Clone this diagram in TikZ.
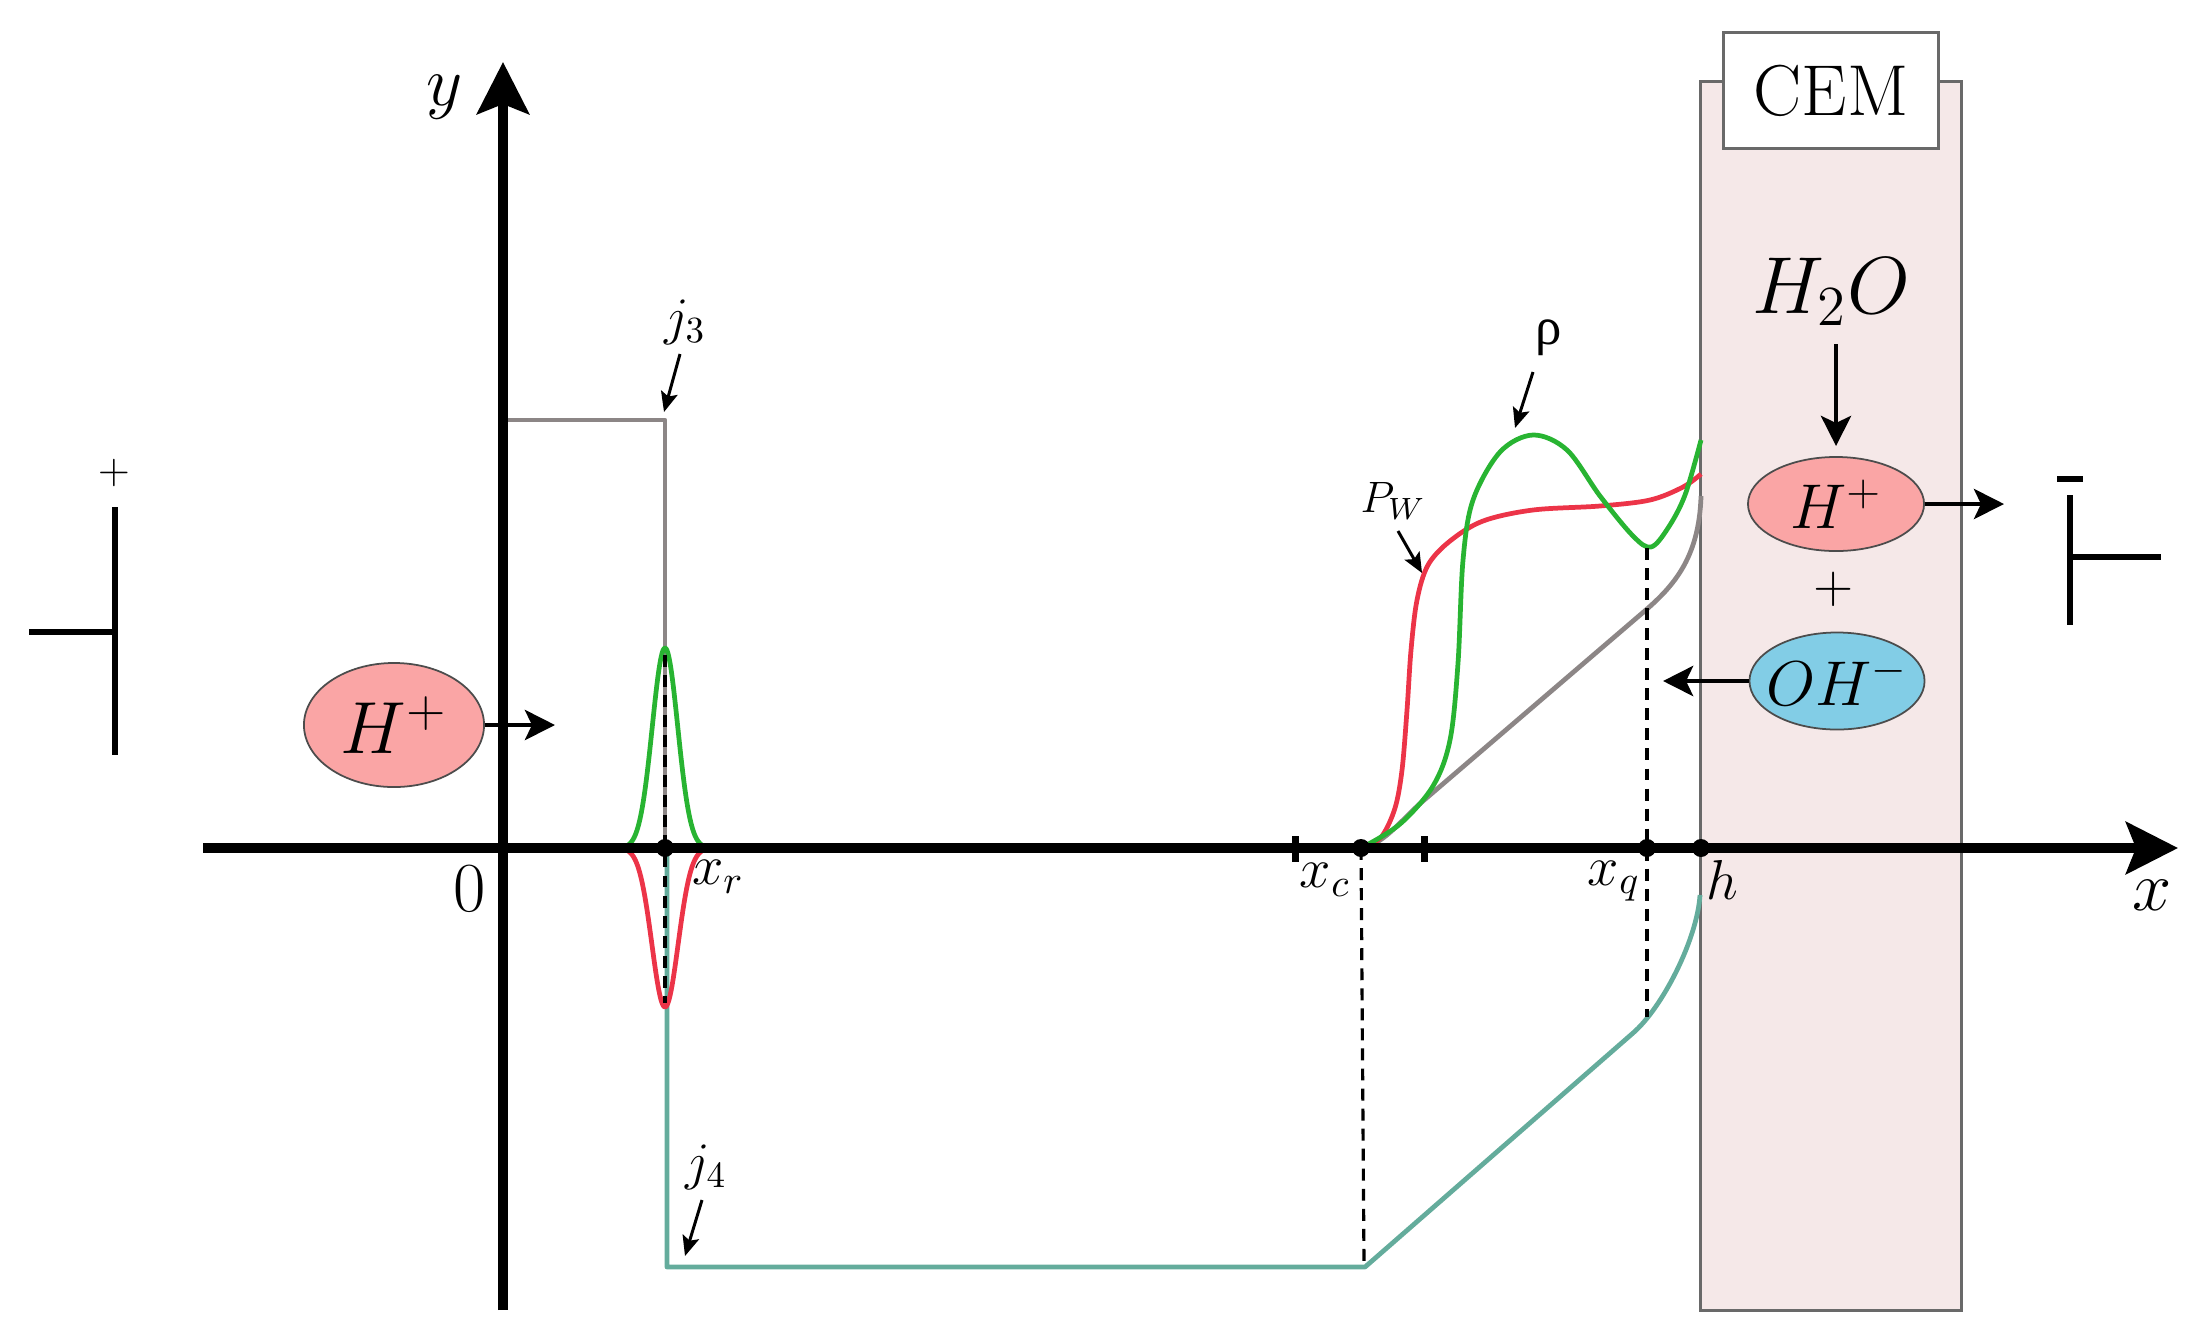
\RequirePackage{fix-cm}
\documentclass[tikz,border=0pt]{standalone}
\usepackage{fontspec}
\newfontfamily\rhofont{Liberation Serif}
\usetikzlibrary{arrows.meta,shapes.geometric}
\definecolor{memfill}{RGB}{245,232,232}
\definecolor{memdraw}{RGB}{105,105,105}
\definecolor{cgray}{RGB}{140,134,134}
\definecolor{cgreen}{RGB}{40,180,50}
\definecolor{cred}{RGB}{236,52,72}
\definecolor{cteal}{RGB}{100,172,156}
\definecolor{hplus}{RGB}{250,165,165}
\definecolor{ohminus}{RGB}{130,205,230}
\newcommand\mysize[1]{\fontsize{#1pt}{#1pt}\selectfont}
\tikzset{
  axisarrow/.style={line width=2.6pt,-{Stealth[length=0.52cm,width=0.52cm,inset=0.1cm]}},
  curvestyle/.style={line width=1.35pt,line join=round},
  dashv/.style={line width=0.9pt,dash pattern=on 3.4pt off 2.3pt},
  dotmark/.style={circle,fill=black,inner sep=0pt,minimum size=0.18cm},
  ionarrow/.style={line width=1.4pt,-{Stealth[length=0.3cm,width=0.3cm,inset=0.07cm]}},
  lblarrow/.style={line width=0.85pt,-{Stealth[length=0.2cm,width=0.17cm,inset=0.04cm]}},
  battline/.style={line width=1.7pt},
  tickmark/.style={line width=2pt},
  ionh/.style={ellipse,draw=black!70,line width=0.5pt,fill=hplus,inner sep=0pt},
  ionoh/.style={ellipse,draw=black!70,line width=0.5pt,fill=ohminus,inner sep=0pt},
  lbl/.style={inner sep=0pt,anchor=center}
}
\begin{document}
\begin{tikzpicture}[x=0.01cm,y=-0.01cm]
\useasboundingbox (0,0) rectangle (2204,1342);

% membrane
\node[draw=memdraw,line width=0.85pt,fill=memfill,minimum width=2.6cm,minimum height=12.28cm,inner sep=0pt] (mem) at (1831,696) {};
\node[draw=memdraw,line width=0.85pt,fill=white,minimum width=2.14cm,minimum height=1.15cm,inner sep=0pt] (cembox) at (1831,90.5) {\mysize{20.5}CEM};

% j3 profile (gray)
\draw[curvestyle,cgray] (506,420) -- (665,420) -- (665,848);
% j4 profile (teal)
\draw[curvestyle,cteal] (667,848) -- (667,1267) -- (1365,1267) -- (1633,1033)
  .. controls (1662,1008) and (1697,940) .. (1700,895);

% gaussians at x_r
\draw[curvestyle,cgreen] plot[domain=612:718,samples=107]
  (\x,{848-200*exp(-((\x-665)/18)*((\x-665)/18))});
\draw[curvestyle,cred] plot[domain=612:718,samples=107]
  (\x,{848+159*exp(-((\x-665)/18.5)*((\x-665)/18.5))});

% right curves
\draw[curvestyle,cgray] (1363,848) .. controls (1385,843) and (1403,818) .. (1423,801)
  -- (1640,615) .. controls (1672,588) and (1699,560) .. (1701,496);
\draw[curvestyle,cred] plot[smooth,tension=0.55] coordinates {(1366,847) (1382,836) (1395,808) (1402,770) (1407,710) (1411,650) (1417,600) (1428,565) (1450,541) (1483,521) (1533,510) (1600,506) (1650,500) (1683,487) (1701,474)};
\draw[curvestyle,cgreen] plot[smooth,tension=0.55] coordinates {(1363,847) (1400,824) (1433,786) (1450,740) (1458,663) (1463,560) (1473,500) (1500,452) (1533,435) (1567,450) (1600,496) (1633,536) (1651,547) (1668,528) (1685,495) (1701,440)};

% dashed verticals
\draw[dashv] (665,655) -- (665,1003);
\draw[dashv] (1361,848) -- (1364,1265);
\draw[dashv] (1647,548) -- (1647,1017);

% axes
\coordinate (xa0) at (203,848);
\coordinate (xa1) at (2178,848);
\coordinate (ya0) at (503,1310);
\coordinate (ya1) at (503,62);
\draw[axisarrow] (xa0) -- (xa1);
\draw[axisarrow] (ya0) -- (ya1);

% ticks and dots
\draw[tickmark] (1295,836) -- (1295,862);
\draw[tickmark] (1424,836) -- (1424,862);
\node[dotmark] (dxr) at (665,848) {};
\node[dotmark] (dxc) at (1361,848) {};
\node[dotmark] (dxq) at (1647,848) {};
\node[dotmark] (dh) at (1701,848) {};

% axis labels
\node[lbl] (ly) at (445,97) {\mysize{20}$y$};
\node[lbl] (lx) at (2152,895) {\mysize{20}$x$};
\node[lbl] (l0) at (470,889) {\mysize{20}$0$};
\node[lbl] (lxr) at (718,877) {\mysize{16}$x_r$};
\node[lbl] (lxc) at (1325,880) {\mysize{16}$x_c$};
\node[lbl] (lxq) at (1614,881) {\mysize{16}$x_q$};
\node[lbl] (lh) at (1722,880) {\mysize{16}$h$};

% curve labels
\node[lbl] (lj3) at (685,322) {\mysize{15}$j_3$};
\coordinate (j3a) at (680,354);
\coordinate (j3b) at (664,412);
\draw[lblarrow] (j3a) -- (j3b);
\node[lbl] (lj4) at (706,1167) {\mysize{15}$j_4$};
\coordinate (j4a) at (702,1200);
\coordinate (j4b) at (685,1256);
\draw[lblarrow] (j4a) -- (j4b);
\node[lbl] (lpw) at (1393,501) {\mysize{12.5}$P_W$};
\coordinate (pwa) at (1398,531);
\coordinate (pwb) at (1422,573);
\draw[lblarrow] (pwa) -- (pwb);
\node[lbl] (lrho) at (1549,338) {\mysize{15}\rhofont ρ};
\coordinate (rhoa) at (1533,372);
\coordinate (rhob) at (1515,428);
\draw[lblarrow] (rhoa) -- (rhob);

% membrane species
\node[lbl] (h2o) at (1831,292) {\mysize{23}$H_2O$};
\node[ionh,minimum width=1.76cm,minimum height=0.94cm] (hpr) at (1836,504) {};
\node[lbl] (hprt) at (hpr.center) {\mysize{18}$H^+$};
\node[lbl] (plus) at (1834,589) {\mysize{15}$+$};
\node[ionoh,minimum width=1.75cm,minimum height=0.97cm] (ohm) at (1837,681) {};
\node[lbl] (ohmt) at (ohm.center) {\mysize{18}$OH^-$};
\coordinate (h2oa) at (1836,344);
\coordinate (h2ob) at (1836,446);
\draw[ionarrow] (h2oa) -- (h2ob);
\coordinate (hpre) at (2004,504);
\draw[ionarrow] (hpr.east) -- (hpre);
\coordinate (ohe) at (1663,681);
\draw[ionarrow] (ohm.west) -- (ohe);

% left ion
\node[ionh,minimum width=1.8cm,minimum height=1.24cm] (hpl) at (394,725) {};
\node[lbl] (hplt) at (hpl.center) {\mysize{21}$H^+$};
\coordinate (hple) at (555,725);
\draw[ionarrow] (hpl.east) -- (hple);

% batteries
\coordinate (lb1) at (115,507);
\coordinate (lb2) at (115,755);
\coordinate (lb3) at (29,632);
\coordinate (lb4) at (115,632);
\draw[battline] (lb1) -- (lb2);
\draw[battline] (lb3) -- (lb4);
\node[lbl] (lplus) at (114,473) {\mysize{12}$+$};
\coordinate (rb1) at (2070,495);
\coordinate (rb2) at (2070,625);
\coordinate (rb3) at (2070,557);
\coordinate (rb4) at (2161,557);
\coordinate (rm1) at (2057,479);
\coordinate (rm2) at (2083,479);
\draw[battline] (rb1) -- (rb2);
\draw[battline] (rb3) -- (rb4);
\draw[battline] (rm1) -- (rm2);
\end{tikzpicture}
\end{document}
